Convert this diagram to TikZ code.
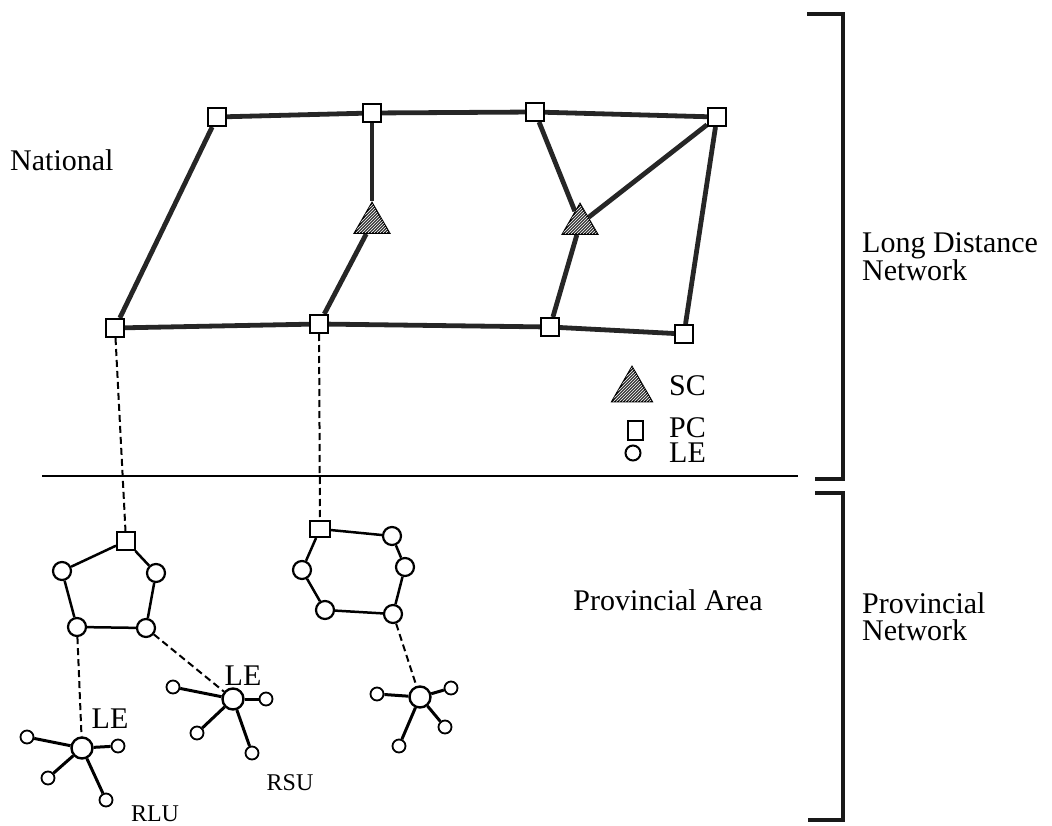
\documentclass[tikz,border=0pt]{standalone}
\usepackage{fontspec}
\setmainfont{Liberation Serif}
\usetikzlibrary{shapes.geometric,patterns}
\pgfdeclarelayer{bg}
\pgfsetlayers{bg,main}
\tikzset{
 pc/.style={draw, line width=2pt, fill=white, minimum size=18pt, inner sep=0pt},
 sc/.style={regular polygon, regular polygon sides=3, draw, line width=1.8pt, fill=black!78,
   postaction={pattern=north east lines, pattern color=white}, minimum size=40pt, inner sep=0pt},
 le/.style={circle, draw, line width=2.2pt, fill=white, minimum size=18pt, inner sep=0pt},
 hub/.style={circle, draw, line width=2.4pt, fill=white, minimum size=21pt, inner sep=0pt},
 leaf/.style={circle, draw, line width=1.8pt, fill=white, minimum size=13pt, inner sep=0pt},
 trunk/.style={line width=4.8pt, black!85},
 ring/.style={line width=2.5pt},
 spoke/.style={line width=3pt},
 link/.style={line width=2pt, dash pattern=on 7pt off 4pt},
 big/.style={font=\fontsize{30}{27}\selectfont, inner sep=0pt},
 caps/.style={font=\fontsize{30}{27}\selectfont, inner sep=0pt, text height=20pt, text depth=0pt},
 small/.style={font=\fontsize{24}{26}\selectfont, inner sep=0pt, text height=16pt, text depth=0pt},
 brace/.style={line width=4.5pt, black!90},
}
\begin{document}
\begin{tikzpicture}[x=1pt,y=-1pt]
\useasboundingbox (0,0) rectangle (1052,826);
% national network nodes
\node[pc] (T1) at (217,117) {};
\node[pc] (T2) at (372,113) {};
\node[pc] (T3) at (535,112) {};
\node[pc] (T4) at (717,117) {};
\node[pc] (B1) at (115,328) {};
\node[pc] (B2) at (319,324) {};
\node[pc] (B3) at (550,327) {};
\node[pc] (B4) at (684,334) {};
\node[sc] (S1) at (372,223) {};
\node[sc] (S2) at (580,224) {};
% provincial cluster 1
\node[pc] (P1) at (126,541) {};
\node[le] (C1) at (62,571) {};
\node[le] (C2) at (156,573) {};
\node[le] (C3) at (77,627) {};
\node[le] (C4) at (146,628) {};
% provincial cluster 2
\node[pc, minimum width=20pt, minimum height=16pt] (P2) at (320,529) {};
\node[le] (D1) at (392,536) {};
\node[le] (D2) at (405,567) {};
\node[le] (D3) at (302,570) {};
\node[le] (D4) at (325,610) {};
\node[le] (D5) at (393,614) {};
% stars
\node[hub] (H1) at (82,748) {};
\node[leaf] (H1a) at (27,737) {};
\node[leaf] (H1b) at (118,746) {};
\node[leaf] (H1c) at (48,778) {};
\node[leaf] (H1d) at (106,800) {};
\node[hub] (H2) at (233,699) {};
\node[leaf] (H2a) at (173,687) {};
\node[leaf] (H2b) at (266,699) {};
\node[leaf] (H2c) at (197,733) {};
\node[leaf] (H2d) at (252,753) {};
\node[hub] (H3) at (420,697) {};
\node[leaf] (H3a) at (377,694) {};
\node[leaf] (H3b) at (451,688) {};
\node[leaf] (H3c) at (445,727) {};
\node[leaf] (H3d) at (399,746) {};
% connectors
\begin{pgfonlayer}{bg}
\draw[trunk] (T1) -- (T2) -- (T3) -- (T4);
\draw[trunk] (B1) -- (B2) -- (B3) -- (B4);
\draw[trunk] (T1) -- (B1);
\draw[trunk] (T2) -- (S1);
\draw[trunk] (S1) -- (B2);
\draw[trunk] (T3) -- (S2);
\draw[trunk] (S2) -- (T4);
\draw[trunk] (S2) -- (B3);
\draw[trunk] (T4) -- (B4);
\draw[ring] (P1) -- (C1) -- (C3) -- (C4) -- (C2) -- (P1);
\draw[ring] (P2) -- (D1) -- (D2) -- (D5) -- (D4) -- (D3) -- (P2);
\foreach \h in {H1,H2,H3}{
  \foreach \l in {a,b,c,d}{ \draw[spoke] (\h) -- (\h\l); }
}
\draw[link] (B1) -- (P1);
\draw[link] (B2) -- (P2);
\draw[link] (C3) -- (H1);
\draw[link] (C4) -- (H2);
\draw[link] (D5) -- (H3);
\end{pgfonlayer}
% divider and brackets
\draw[line width=1.5pt] (42,476) -- (798,476);
\draw[brace] (807,14) -- (843,14) -- (843,479) -- (815,479);
\draw[brace] (815,493) -- (843,493) -- (843,820) -- (808,820);
% legend
\node[sc, minimum size=46pt] (LSC) at (632,390) {};
\node[pc, minimum width=15pt, minimum height=19pt] (LPC) at (635,430) {};
\node[le, minimum size=15pt, line width=2pt] (LLE) at (633,453) {};
\node[caps, anchor=west] (tSC) at (669,385) {SC};
\node[caps, anchor=west] (tPC) at (669,427) {PC};
\node[caps, anchor=west] (tLE) at (669,452) {LE};
% labels
\node[big, anchor=west] (nat) at (10,160) {National};
\node[big, anchor=west, align=left] (ldn) at (862,257) {Long Distance\\Network};
\node[big, anchor=west, align=left] (pn) at (862,617) {Provincial\\Network};
\node[big] (pa) at (668,600) {Provincial Area};
\node[caps] (le1) at (110,718) {LE};
\node[caps] (le2) at (243,675) {LE};
\node[small] (rsu) at (290,782) {RSU};
\node[small] (rlu) at (155,813) {RLU};
\end{tikzpicture}
\end{document}
